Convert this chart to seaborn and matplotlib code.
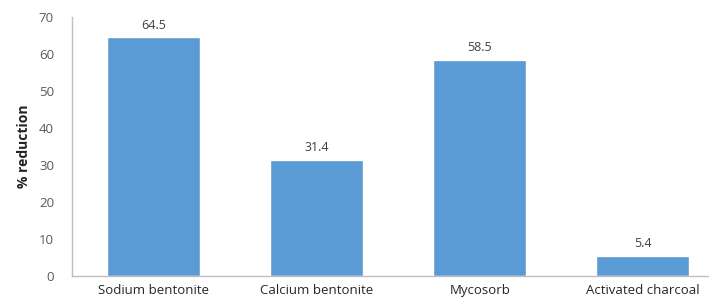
import matplotlib
matplotlib.use('Agg')
import matplotlib.pyplot as plt
import seaborn as sns
import pandas as pd

# Dados do gráfico
categorias = ['Sodium bentonite', 'Calcium bentonite', 'Mycosorb', 'Activated charcoal']
reducao = [64.5, 31.4, 58.5, 5.4]

df = pd.DataFrame({'Adsorvente': categorias, 'Reducao': reducao})

sns.set_style('white')
plt.rcParams['font.family'] = ['Open Sans', 'DejaVu Sans']

fig = plt.figure(figsize=(7.09, 3.0), dpi=100)
ax = fig.add_axes([0.1016, 0.08, 0.92, 0.863])

sns.barplot(data=df, x='Adsorvente', y='Reducao', color='#5B9BD5',
            saturation=1, width=0.57, ax=ax)

# Rótulos de valor sobre as barras
for container in ax.containers:
    ax.bar_label(container, fmt='%.1f', padding=4, fontsize=9, color='#404040')

ax.set_ylim(0, 70)
ax.set_yticks(range(0, 71, 10))
ax.set_xlim(-0.5, 3.5)
ax.set_xlabel('')
ax.set_ylabel('% reduction', fontsize=10, fontweight='bold', color='#222222',
              labelpad=6, fontstretch='condensed')

ax.tick_params(axis='y', labelsize=9.5, labelcolor='#595959', length=0, pad=13)
ax.tick_params(axis='x', labelsize=9.5, labelcolor='#262626', length=0, pad=6)

for lado in ['top', 'right']:
    ax.spines[lado].set_visible(False)
for lado in ['left', 'bottom']:
    ax.spines[lado].set_color('#BFBFBF')
    ax.spines[lado].set_linewidth(1)

fig.savefig('out.png', dpi=100)
